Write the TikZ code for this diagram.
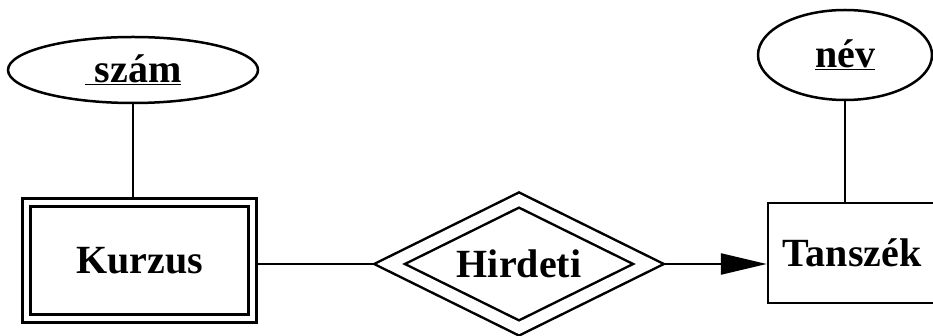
\documentclass[tikz,border=0pt]{standalone}
\usepackage{fontspec}
\setmainfont{Liberation Serif}
\usetikzlibrary{shapes.geometric,arrows.meta,backgrounds}

\tikzset{conn/.style={line width=2.5pt}}

\begin{document}
\begin{tikzpicture}[x=1pt, y=-1pt, line width=2.5pt, font=\fontsize{40}{44}\selectfont\bfseries]
    \useasboundingbox (0, 0) rectangle (933, 336);

    \node[style=draw, ellipse, minimum width=250pt, minimum height=66pt, inner sep=0pt] (szam) at (133, 70) {\underline{\ szám}};
    \node[style=draw, ellipse, minimum width=174pt, minimum height=90pt, inner sep=0pt] (nev) at (845, 55) {\underline{név}};
    \node[style=draw, double, double distance=5.5pt, outer sep=5.5pt, minimum width=226pt, minimum height=116pt, inner sep=0pt] (kurzus) at (139.5, 260.5) {Kurzus};
    \node[style=draw, diamond, aspect=2, double, double distance=11pt, minimum width=260pt, minimum height=129pt, inner sep=0pt] (hirdeti) at (519, 264) {Hirdeti};
    \node[style=draw, minimum width=168pt, minimum height=100pt, inner sep=0pt] (tanszek) at (852, 253) {Tanszék};

    \begin{scope}[on background layer]
        \draw[conn] (szam.south) -- (szam.south |- kurzus.north);
        \draw[conn] (nev.south) -- (nev.south |- tanszek.north);
        \draw[conn] (kurzus.east |- hirdeti.west) -- (hirdeti.west);
        \draw[conn, -{Triangle[length=46pt, width=21pt]}] (hirdeti.east) -- (hirdeti.east -| tanszek.west);
    \end{scope}
\end{tikzpicture}
\end{document}
